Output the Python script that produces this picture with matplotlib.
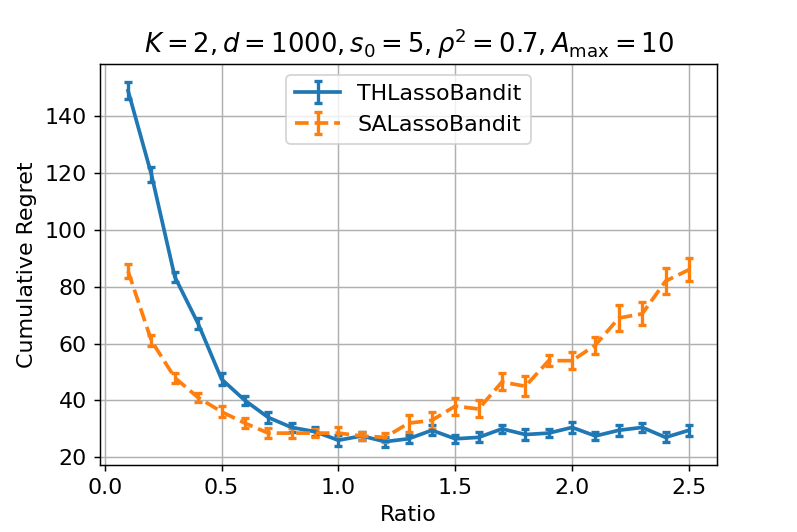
import numpy as np
import matplotlib
matplotlib.use("Agg")
import matplotlib.pyplot as plt

# ratio values on the x axis
ratio = [0.1, 0.2, 0.3, 0.4, 0.5, 0.6, 0.7, 0.8, 0.9, 1.0, 1.1, 1.2, 1.3,
         1.4, 1.5, 1.6, 1.7, 1.8, 1.9, 2.0, 2.1, 2.2, 2.3, 2.4, 2.5]

# THLassoBandit: mean regret and error
th_mean = [149.0, 119.5, 83.5, 67.0, 47.5, 40.0, 34.0, 30.5, 29.0, 26.0, 27.5, 25.5, 26.5,
           29.5, 26.5, 27.0, 30.0, 28.0, 28.5, 30.5, 27.5, 29.5, 30.5, 27.0, 29.5]
th_err = [3.0, 2.5, 1.8, 2.0, 2.0, 1.5, 2.0, 1.5, 1.5, 2.0, 1.5, 1.8, 1.5,
          1.8, 1.5, 1.8, 1.5, 2.0, 1.5, 1.8, 1.5, 2.0, 1.5, 1.8, 2.0]

# SALassoBandit: mean regret and error
sa_mean = [85.5, 61.0, 48.0, 41.0, 36.0, 32.0, 28.5, 28.5, 28.5, 28.5, 27.5, 27.0, 32.0,
           33.0, 38.0, 37.0, 46.5, 45.0, 54.0, 54.0, 59.5, 69.0, 70.5, 82.0, 86.0]
sa_err = [2.5, 2.0, 1.8, 1.5, 2.0, 1.8, 1.8, 1.8, 1.5, 2.0, 1.5, 1.5, 3.0,
          3.0, 3.0, 3.0, 3.0, 3.5, 2.0, 3.0, 3.0, 4.5, 4.0, 4.5, 4.0]

plt.rcParams['font.size'] = 12

fig = plt.figure(figsize=(797 / 133, 4), dpi=133)
ax = fig.add_axes([0.1255, 0.126, 0.7741, 0.7537])

ax.errorbar(ratio, th_mean, yerr=th_err, capsize=2.3, capthick=1.8, elinewidth=1.8,
            linewidth=2, linestyle='-', color='tab:blue', label='THLassoBandit')
ax.errorbar(ratio, sa_mean, yerr=sa_err, capsize=2.3, capthick=1.8, elinewidth=1.8,
            linewidth=2, linestyle='--', color='tab:orange', label='SALassoBandit')

ax.set_xlabel('Ratio')
ax.set_ylabel('Cumulative Regret')
ax.set_title(r'$K=2, d=1000, s_0=5, \rho^2=0.7, A_{\max}=10$', fontsize=14)
ax.grid(True)
ax.legend(loc='upper center')

fig.savefig('out.png', dpi=133)
